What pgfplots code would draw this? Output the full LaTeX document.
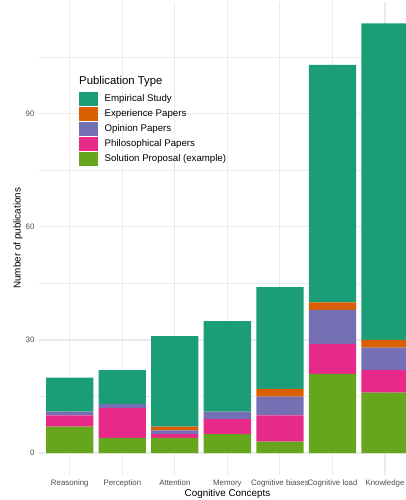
\documentclass[border=0pt]{standalone}
\usepackage{fontspec}
\setmainfont{Liberation Sans}
\usepackage{pgfplots}
\pgfplotsset{compat=1.18}

\definecolor{empirical}{HTML}{1B9E77}
\definecolor{experience}{HTML}{D95F02}
\definecolor{opinion}{HTML}{7570B3}
\definecolor{philo}{HTML}{E7298A}
\definecolor{solution}{HTML}{66A61E}
\definecolor{gridgrey}{HTML}{EBEBEB}
\definecolor{ticktext}{HTML}{4D4D4D}

\pgfplotsset{
  pubbar/.style={fill=#1, draw=none,
    legend image code/.code={
      \fill[#1] (0bp,-7bp) rectangle (18.7bp,7bp);
      \path[fill=none, draw=none] (0bp,-7.5bp) rectangle (25.7bp,7.5bp);
    }},
}

\begin{document}
\begin{tikzpicture}
\path[use as bounding box] (0,0) rectangle (406bp,500bp);
\begin{axis}[
  at={(39bp,25.5bp)}, anchor=south west,
  scale only axis,
  width=367bp, height=472.5bp,
  ybar stacked,
  bar width=0.9,
  xmin=0.414, xmax=7.40,
  ymin=-5.7, ymax=119.7,
  enlargelimits=false,
  xtick={1,2,3,4,5,6,7},
  xticklabels={Reasoning, Perception, Attention, Memory, Cognitive biases, Cognitive load, Knowledge},
  ytick={0,30,60,90},
  minor ytick={15,45,75,105},
  xmajorgrids, ymajorgrids, yminorgrids,
  major grid style={gridgrey, line width=1.1bp},
  minor grid style={gridgrey, line width=0.55bp},
  axis line style={draw=none},
  tick style={draw=none},
  major tick length=0pt, minor tick length=0pt,
  /pgf/number format/assume math mode=true,
  xticklabel style={anchor=base, yshift=-10.8bp, inner sep=0pt, text=ticktext,
    font=\fontsize{7.9}{9}\selectfont},
  yticklabel style={anchor=east, xshift=-4.3bp, inner sep=0pt, text=ticktext,
    font=\fontsize{7.9}{9}\selectfont},
  xlabel={Cognitive Concepts},
  ylabel={Number of publications},
  xlabel style={at={(axis description cs:0.5136,-0.047)}, anchor=base, inner sep=0pt,
    font=\fontsize{9.9}{12}\selectfont},
  ylabel style={at={(axis description cs:-0.0572,0.5)}, anchor=center, inner sep=0pt,
    font=\fontsize{9.9}{12}\selectfont},
  reverse legend,
  legend cell align=left,
  legend style={at={(axis description cs:0.109,0.8106)}, anchor=north west,
    draw=none, fill=none, inner sep=0pt, outer sep=0pt, row sep=0pt,
    nodes={inner sep=0pt},
    font=\fontsize{9.7}{11}\selectfont},
]
\addplot[pubbar=solution] coordinates {(1,7) (2,4) (3,4) (4,5) (5,3) (6,21) (7,16)};
\addlegendentry{Solution Proposal (example)}
\addplot[pubbar=philo] coordinates {(1,3) (2,8) (3,1) (4,4) (5,7) (6,8) (7,6)};
\addlegendentry{Philosophical Papers}
\addplot[pubbar=opinion] coordinates {(1,1) (2,1) (3,1) (4,2) (5,5) (6,9) (7,6)};
\addlegendentry{Opinion Papers}
\addplot[pubbar=experience] coordinates {(1,0) (2,0) (3,1) (4,0) (5,2) (6,2) (7,2)};
\addlegendentry{Experience Papers}
\addplot[pubbar=empirical] coordinates {(1,9) (2,9) (3,24) (4,24) (5,27) (6,63) (7,84)};
\addlegendentry{Empirical Study}
\end{axis}
\node[anchor=base west, inner sep=0pt, font=\fontsize{11.4}{13}\selectfont] at (79bp,415.7bp) {Publication Type};
\end{tikzpicture}
\end{document}
